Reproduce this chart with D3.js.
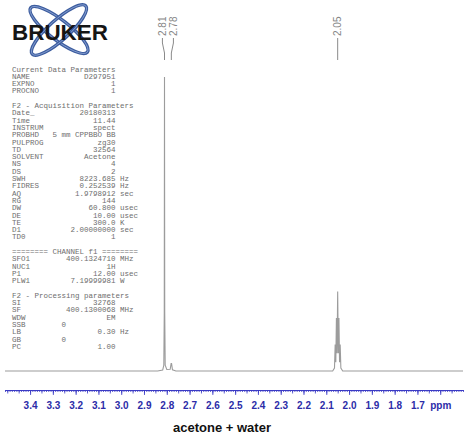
<!DOCTYPE html>
<html>
<head>
<meta charset="utf-8">
<script src="https://cdn.jsdelivr.net/npm/d3@7"></script>
<style>
  body { margin: 0; background: #fff; }
  svg { display: block; }
</style>
</head>
<body>
<script>
// 1H spectrum: [ppm, intensity] points (tallest peak = 100)
const spectrum = [
  [3.51, 0], [2.840, 0], [2.818, 0.3], [2.813, 2], [2.811, 20], [2.810, 100],
  [2.809, 20], [2.807, 2], [2.800, 0.5], [2.785, 0.6], [2.781, 2.5], [2.779, 2.5],
  [2.775, 0.4], [2.760, 0],
  [2.072, 0], [2.064, 1], [2.0610, 9], [2.0582, 3], [2.0555, 18], [2.0528, 6],
  [2.0500, 27], [2.0472, 6], [2.0445, 18], [2.0418, 3], [2.0390, 9], [2.0360, 1],
  [2.028, 0], [1.50, 0]
];

// picked peaks
const peakLabels = [2.81, 2.78, 2.05];

// ppm axis
const axisDomain = [3.51, 1.50];
const majorTicks = [3.4, 3.3, 3.2, 3.1, 3.0, 2.9, 2.8, 2.7, 2.6, 2.5, 2.4, 2.3, 2.2, 2.1, 2.0, 1.9, 1.8, 1.7, 1.6];
const tickLabels = ["3.4", "3.3", "3.2", "3.1", "3.0", "2.9", "2.8", "2.7", "2.6", "2.5", "2.4", "2.3", "2.2", "2.1", "2.0", "1.9", "1.8", "1.7", "ppm"];
const axisTitle = "acetone + water";

// acquisition / processing parameter listing
const currentParams = [["NAME", "D297951"], ["EXPNO", "1"], ["PROCNO", "1"]];
const acqParams = [
  ["Date_", "20180313"], ["Time", "11.44"], ["INSTRUM", "spect"], ["PROBHD", "5 mm CPPBBO BB"],
  ["PULPROG", "zg30"], ["TD", "32564"], ["SOLVENT", "Acetone"], ["NS", "4"], ["DS", "2"],
  ["SWH", "8223.685", "Hz"], ["FIDRES", "0.252539", "Hz"], ["AQ", "1.9798912", "sec"],
  ["RG", "144"], ["DW", "60.800", "usec"], ["DE", "10.00", "usec"], ["TE", "300.0", "K"],
  ["D1", "2.00000000", "sec"], ["TD0", "1"]
];
const channelParams = [["SFO1", "400.1324710", "MHz"], ["NUC1", "1H"], ["P1", "12.00", "usec"], ["PLW1", "7.19999981", "W"]];
const procParams = [
  ["SI", "32768"], ["SF", "400.1300068", "MHz"], ["WDW", "EM"], ["SSB", "0", null, true],
  ["LB", "0.30", "Hz"], ["GB", "0", null, true], ["PC", "1.00"]
];
const paramBlocks = [
  ["Current Data Parameters", currentParams],
  ["F2 - Acquisition Parameters", acqParams],
  ["======== CHANNEL f1 ========", channelParams],
  ["F2 - Processing parameters", procParams]
];

const W = 468, H = 439;
const svg = d3.select("body").append("svg").attr("width", W).attr("height", H);

const x = d3.scaleLinear().domain(axisDomain).range([5, 463]);
const y = d3.scaleLinear().domain([0, 100]).range([371, 77]);

// ---- logo ----
const logo = svg.append("g");
[38, -42].forEach(a => {
  logo.append("ellipse")
    .attr("cx", 59).attr("cy", 30).attr("rx", 36).attr("ry", 10)
    .attr("transform", `rotate(${a},59,30)`)
    .attr("fill", "none").attr("stroke", "#3d5d9f").attr("stroke-width", 3.4);
  logo.append("ellipse")
    .attr("cx", 59).attr("cy", 30).attr("rx", 36).attr("ry", 10)
    .attr("transform", `rotate(${a},59,30)`)
    .attr("fill", "none").attr("stroke", "#8ea6d6").attr("stroke-width", 0.8);
});
logo.append("text")
  .attr("x", 12).attr("y", 40)
  .attr("textLength", 96).attr("lengthAdjust", "spacingAndGlyphs")
  .style("font-family", "'Liberation Sans', Arial, sans-serif")
  .style("font-weight", "bold").style("font-size", "22px")
  .attr("fill", "#151515").text("BRUKER");

// ---- parameter listing ----
const cw = 4.5, px0 = 12, rowH = 7.3;
const ptxt = svg.append("g")
  .style("font-family", "'Liberation Mono', 'DejaVu Sans Mono', monospace")
  .style("font-size", "7.5px").attr("fill", "#6e6e6e");
let row = 0;
paramBlocks.forEach(([header, rows], bi) => {
  if (bi > 0) row++;
  const yb = r => 71.5 + r * rowH;
  ptxt.append("text").attr("x", px0).attr("y", yb(row)).text(header);
  row++;
  rows.forEach(([name, val, unit, short]) => {
    const yy = yb(row);
    ptxt.append("text").attr("x", px0).attr("y", yy).text(name);
    if (short) {
      ptxt.append("text").attr("x", px0 + 11 * cw).attr("y", yy).text(val);
    } else {
      ptxt.append("text").attr("x", px0 + 23 * cw).attr("y", yy)
        .attr("text-anchor", "end").style("white-space", "pre").text(val);
    }
    if (unit) ptxt.append("text").attr("x", px0 + 24 * cw).attr("y", yy).text(unit);
    row++;
  });
});

// ---- spectrum ----
svg.append("path")
  .datum(spectrum)
  .attr("fill", "none").attr("stroke", "#9c9c9c").attr("stroke-width", 1.1)
  .attr("d", d3.line().x(d => x(d[0])).y(d => y(d[1])));

// ---- peak labels ----
const peakX = peakLabels.map(p => x(p));
const labX = peakX.slice();
for (let i = 1; i < labX.length; i++) {
  const gap = 11;
  if (labX[i] - labX[i - 1] < gap) {
    const mid = (peakX[i] + peakX[i - 1]) / 2;
    labX[i - 1] = mid - gap / 2;
    labX[i] = mid + gap / 2;
  }
}
const pl = svg.append("g");
peakLabels.forEach((p, i) => {
  pl.append("text")
    .attr("transform", `translate(${labX[i] + 3.5},36) rotate(-90)`)
    .attr("text-anchor", "start")
    .style("font-family", "'Liberation Sans', Arial, sans-serif")
    .style("font-size", "10px").attr("fill", "#858585")
    .text(p.toFixed(2));
  pl.append("path")
    .attr("d", `M${labX[i]},38 L${labX[i]},43 L${peakX[i]},53 L${peakX[i]},60`)
    .attr("fill", "none").attr("stroke", "#8a8a8a").attr("stroke-width", 1);
});

// ---- ppm axis ----
const axisY = 390;
const blue = "#3a3ac4";
const minorVals = d3.range(351, 149, -1).map(v => v / 100);
const midVals = d3.range(70, 30, -1).map(v => v / 20).filter(v => v <= 3.51 && v >= 1.5);

const gMinor = svg.append("g").attr("transform", `translate(0,${axisY})`)
  .call(d3.axisBottom(x).tickValues(minorVals).tickSize(2).tickSizeOuter(0).tickFormat(""));
const gMid = svg.append("g").attr("transform", `translate(0,${axisY})`)
  .call(d3.axisBottom(x).tickValues(midVals).tickSize(3.5).tickSizeOuter(0).tickFormat(""));
const gMajor = svg.append("g").attr("transform", `translate(0,${axisY})`)
  .call(d3.axisBottom(x).tickValues(majorTicks).tickSize(5).tickSizeOuter(0).tickPadding(7)
    .tickFormat((d, i) => tickLabels[i]));
[gMinor, gMid, gMajor].forEach(g => {
  g.selectAll("path.domain").attr("stroke", blue).attr("stroke-width", 1);
  g.selectAll("line").attr("stroke", blue).attr("stroke-width", 0.8);
});
gMajor.selectAll("text")
  .attr("fill", "#2c2ca8")
  .style("font-family", "'Liberation Sans', Arial, sans-serif")
  .style("font-weight", "bold").style("font-size", "10px");

svg.append("text")
  .attr("x", 222).attr("y", 432).attr("text-anchor", "middle")
  .style("font-family", "'Liberation Sans', Arial, sans-serif")
  .style("font-weight", "bold").style("font-size", "13px")
  .attr("fill", "#111").text(axisTitle);
</script>
</body>
</html>
